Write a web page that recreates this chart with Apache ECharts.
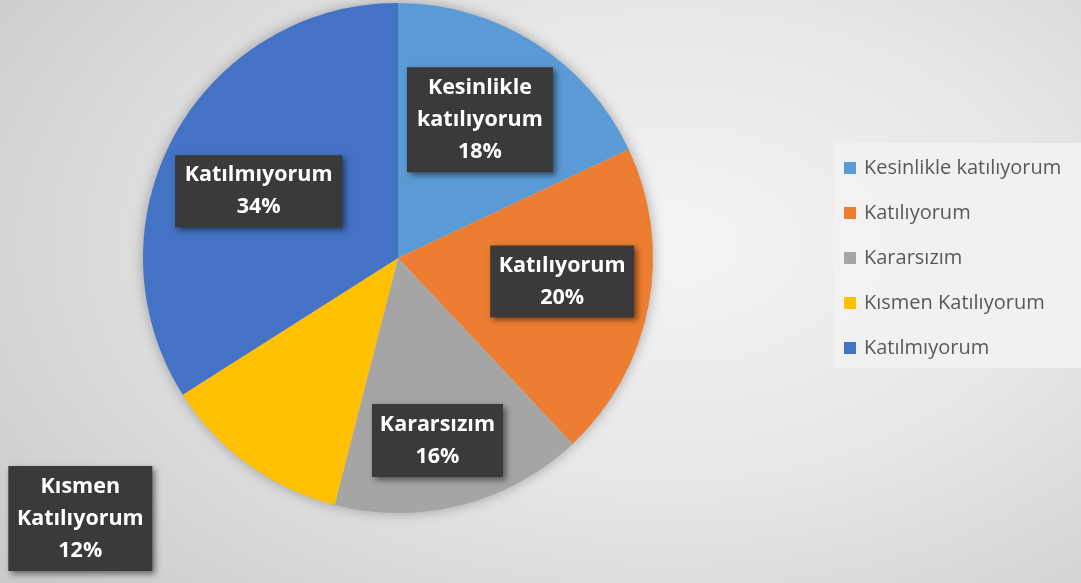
<!DOCTYPE html>
<html>
<head>
<meta charset="utf-8">
<script src="https://cdn.jsdelivr.net/npm/echarts@6/dist/echarts.min.js"></script>
<style>
html,body{margin:0;padding:0;width:1081px;height:583px;overflow:hidden;}
body{background:radial-gradient(ellipse 78% 90% at 62% 42%, #f4f4f4 0%, #e7e7e7 45%, #d2d2d2 85%, #cacaca 100%);}
#chart{width:1081px;height:583px;}
</style>
</head>
<body>
<div id="chart"></div>
<script>
// ---- data ----
var categories = ['Kesinlikle katılıyorum', 'Katılıyorum', 'Kararsızım', 'Kısmen Katılıyorum', 'Katılmıyorum'];
var values = [18, 20, 16, 12, 34];

// ---- styles (not data) ----
var colors = ['#5B9BD5', '#ED7D31', '#A5A5A5', '#FFC000', '#4472C4'];
var labelWidths = [126, 124, 111, 124, 147];
var labelPads = [[4, 10, 5, 10], [4, 10, 4, 10], [5, 10, 4, 10], [5, 10, 4, 10], [4, 10, 4, 10]];
var labelShift = [[12, -28], [36, -1], [7, 56], [-241, 155], [-25, -4]];

var pieData = categories.map(function (name, i) {
  return {
    name: name,
    value: values[i],
    itemStyle: { color: colors[i] },
    label: { width: labelWidths[i], padding: labelPads[i] }
  };
});

var chart = echarts.init(document.getElementById('chart'), null, { renderer: 'canvas' });
chart.setOption({
  backgroundColor: 'transparent',
  animation: false,
  legend: {
    data: categories,
    orient: 'vertical',
    left: 833,
    top: 143,
    padding: [15, 20, 10, 11],
    itemWidth: 12,
    itemHeight: 12,
    itemGap: 25,
    icon: 'rect',
    backgroundColor: 'rgba(242,242,242,0.85)',
    textStyle: { color: '#595959', fontSize: 20, fontFamily: 'Open Sans', lineHeight: 20, padding: [0, 0, 0, 3] }
  },
  series: [
    {
      type: 'pie',
      name: 'shadow',
      silent: true,
      z: 1,
      center: [398, 258],
      radius: [0, 254],
      startAngle: 90,
      label: { show: false },
      labelLine: { show: false },
      itemStyle: { color: '#d0d0d0', shadowBlur: 14, shadowColor: 'rgba(0,0,0,0.35)' },
      data: [{ name: 'shadow', value: 1 }]
    },
    {
      type: 'pie',
      name: 'Yanıtlar',
      z: 2,
      center: [398, 258],
      radius: [0, 255],
      startAngle: 90,
      clockwise: true,
      avoidLabelOverlap: false,
      itemStyle: { borderWidth: 0 },
      labelLine: { show: false },
      label: {
        show: true,
        position: 'inside',
        formatter: function (p) {
          return p.name.replace(' ', '\n') + '\n' + p.percent + '%';
        },
        overflow: 'none',
        color: '#ffffff',
        fontFamily: 'Open Sans',
        fontWeight: 'bold',
        fontSize: 21.5,
        lineHeight: 32,
        align: 'center',
        backgroundColor: '#3a3a3a',
        shadowColor: 'rgba(0,0,0,0.5)',
        shadowBlur: 6,
        shadowOffsetX: 3,
        shadowOffsetY: 3
      },
      labelLayout: function (p) {
        var s = labelShift[p.dataIndex];
        return { dx: s[0], dy: s[1] };
      },
      emphasis: { disabled: true },
      data: pieData
    }
  ]
});
</script>
</body>
</html>
